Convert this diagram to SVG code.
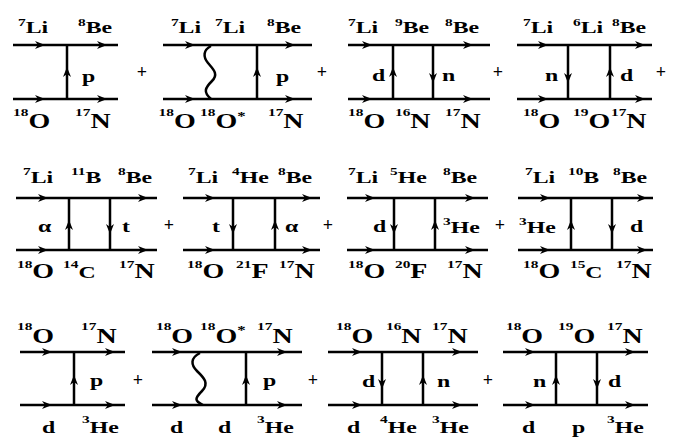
<svg xmlns="http://www.w3.org/2000/svg" xmlns:xlink="http://www.w3.org/1999/xlink" width="677" height="438" viewBox="0 0 677 438">
<style>
.ln{stroke:#000;stroke-width:2.5;fill:none}
text{font-family:"Liberation Serif","Times New Roman",serif;font-weight:bold;fill:#000}
.s{font-size:11px}
.t{font-size:17px}
.b{font-size:20px}
.c{font-size:17px}
.st{font-size:12px}
.op{font-size:18px;text-anchor:middle;fill:#000}
</style>
<defs>
<path id="a" d="M0,0 L-10,-4 L-7,0 L-10,4 Z" fill="#000"/>
</defs>
<rect width="677" height="438" fill="#fff"/>

<!-- Row 1 -->
<g id="d1">
<g class="conn">
<path class="ln" d="M13,45H118M13,99H118M67,45V99"/>
<use xlink:href="#a" x="45" y="45"/><use xlink:href="#a" x="107" y="45"/>
<use xlink:href="#a" x="45" y="99"/><use xlink:href="#a" x="107" y="99"/>
<use xlink:href="#a" transform="translate(67,67) rotate(-90)"/>
</g>
<g transform="scale(1.4 1)">
<text><tspan class="s" x="12.9" y="26">7</tspan><tspan class="t" y="33">Li</tspan></text>
<text><tspan class="s" x="55.7" y="26">8</tspan><tspan class="t" y="33">Be</tspan></text>
<text><tspan class="s" x="9.3" y="116">18</tspan><tspan class="b" y="128">O</tspan></text>
<text><tspan class="s" x="53.6" y="116">17</tspan><tspan class="b" y="128">N</tspan></text>
<text class="t" x="58.6" y="82">p</text>
</g>
</g>

<g id="d2">
<g class="conn">
<path class="ln" d="M163,45H312M163,99H312M257,45V99"/>
<path class="ln" d="M211,46C203,50 203,57 208,63S219,74 212,81S203,92 211,99"/>
<use xlink:href="#a" x="195" y="45"/><use xlink:href="#a" x="295" y="45"/>
<use xlink:href="#a" x="195" y="99"/><use xlink:href="#a" x="295" y="99"/>
<use xlink:href="#a" transform="translate(257,67) rotate(-90)"/>
</g>
<g transform="scale(1.4 1)">
<text><tspan class="s" x="122.1" y="26">7</tspan><tspan class="t" y="33">Li</tspan></text>
<text><tspan class="s" x="153.6" y="26">7</tspan><tspan class="t" y="33">Li</tspan></text>
<text><tspan class="s" x="190.7" y="26">8</tspan><tspan class="t" y="33">Be</tspan></text>
<text><tspan class="s" x="113.3" y="116">18</tspan><tspan class="b" y="128">O</tspan></text>
<text><tspan class="s" x="142.9" y="116">18</tspan><tspan class="b" y="128">O</tspan><tspan class="st" y="120">*</tspan></text>
<text><tspan class="s" x="191.4" y="116">17</tspan><tspan class="b" y="128">N</tspan></text>
<text class="t" x="197.1" y="82">p</text>
</g>
</g>

<g id="d3">
<g class="conn">
<path class="ln" d="M348,45H490M348,99H490M393,45V99M433,45V99"/>
<use xlink:href="#a" x="372" y="45"/><use xlink:href="#a" x="473" y="45"/>
<use xlink:href="#a" x="372" y="99"/><use xlink:href="#a" x="473" y="99"/>
<use xlink:href="#a" transform="translate(393,67) rotate(-90)"/>
<use xlink:href="#a" transform="translate(433,83) rotate(90)"/>
</g>
<g transform="scale(1.4 1)">
<text><tspan class="s" x="248.6" y="26">7</tspan><tspan class="t" y="33">Li</tspan></text>
<text><tspan class="s" x="282.1" y="26">9</tspan><tspan class="t" y="33">Be</tspan></text>
<text><tspan class="s" x="317.9" y="26">8</tspan><tspan class="t" y="33">Be</tspan></text>
<text><tspan class="s" x="248.6" y="116">18</tspan><tspan class="b" y="128">O</tspan></text>
<text><tspan class="s" x="282.1" y="116">16</tspan><tspan class="b" y="128">N</tspan></text>
<text><tspan class="s" x="317.9" y="116">17</tspan><tspan class="b" y="128">N</tspan></text>
<text class="t" x="265.7" y="81">d</text>
<text class="t" x="315.7" y="81">n</text>
</g>
</g>

<g id="d4">
<g class="conn">
<path class="ln" d="M517,45H652M517,99H652M568,45V99M610,45V99"/>
<use xlink:href="#a" x="548" y="45"/><use xlink:href="#a" x="645" y="45"/>
<use xlink:href="#a" x="548" y="99"/><use xlink:href="#a" x="645" y="99"/>
<use xlink:href="#a" transform="translate(568,83) rotate(90)"/>
<use xlink:href="#a" transform="translate(610,67) rotate(-90)"/>
</g>
<g transform="scale(1.4 1)">
<text><tspan class="s" x="373.6" y="26">7</tspan><tspan class="t" y="33">Li</tspan></text>
<text><tspan class="s" x="409.3" y="26">6</tspan><tspan class="t" y="33">Li</tspan></text>
<text><tspan class="s" x="437.1" y="26">8</tspan><tspan class="t" y="33">Be</tspan></text>
<text><tspan class="s" x="373.6" y="116">18</tspan><tspan class="b" y="128">O</tspan></text>
<text><tspan class="s" x="409.3" y="116">19</tspan><tspan class="b" y="128">O</tspan></text>
<text><tspan class="s" x="436.4" y="116">17</tspan><tspan class="b" y="128">N</tspan></text>
<text class="t" x="389.3" y="81">n</text>
<text class="t" x="442.9" y="81">d</text>
</g>
</g>

<!-- Row 2 -->
<g id="d5">
<g class="conn">
<path class="ln" d="M16,198H157M16,250H157M69,198V250M110,198V250"/>
<use xlink:href="#a" x="48" y="198"/><use xlink:href="#a" x="148" y="198"/>
<use xlink:href="#a" x="48" y="250"/><use xlink:href="#a" x="148" y="250"/>
<use xlink:href="#a" transform="translate(69,220) rotate(-90)"/>
<use xlink:href="#a" transform="translate(110,234) rotate(90)"/>
</g>
<g transform="scale(1.4 1)">
<text><tspan class="s" x="16.4" y="175">7</tspan><tspan class="t" y="183">Li</tspan></text>
<text><tspan class="s" x="50.7" y="175">11</tspan><tspan class="t" y="183">B</tspan></text>
<text><tspan class="s" x="84.3" y="175">8</tspan><tspan class="t" y="183">Be</tspan></text>
<text><tspan class="s" x="12.1" y="268">18</tspan><tspan class="b" y="278">O</tspan></text>
<text><tspan class="s" x="45" y="268">14</tspan><tspan class="c" y="278">C</tspan></text>
<text><tspan class="s" x="85" y="268">17</tspan><tspan class="b" y="278">N</tspan></text>
<text class="t" x="27.1" y="232">α</text>
<text class="t" x="87.1" y="232">t</text>
</g>
</g>

<g id="d6">
<g class="conn">
<path class="ln" d="M183,198H320M183,250H320M233,198V250M275,198V250"/>
<use xlink:href="#a" x="215" y="198"/><use xlink:href="#a" x="312" y="198"/>
<use xlink:href="#a" x="215" y="250"/><use xlink:href="#a" x="312" y="250"/>
<use xlink:href="#a" transform="translate(233,234) rotate(90)"/>
<use xlink:href="#a" transform="translate(275,220) rotate(-90)"/>
</g>
<g transform="scale(1.4 1)">
<text><tspan class="s" x="134.3" y="175">7</tspan><tspan class="t" y="183">Li</tspan></text>
<text><tspan class="s" x="165.7" y="175">4</tspan><tspan class="t" y="183">He</tspan></text>
<text><tspan class="s" x="198.6" y="175">8</tspan><tspan class="t" y="183">Be</tspan></text>
<text><tspan class="s" x="133.6" y="268">18</tspan><tspan class="b" y="278">O</tspan></text>
<text><tspan class="s" x="168.6" y="268">21</tspan><tspan class="b" y="278">F</tspan></text>
<text><tspan class="s" x="199.3" y="268">17</tspan><tspan class="b" y="278">N</tspan></text>
<text class="t" x="151.4" y="232">t</text>
<text class="t" x="203.6" y="232">α</text>
</g>
</g>

<g id="d7">
<g class="conn">
<path class="ln" d="M347,198H488M347,250H488M394,198V250M435,198V250"/>
<use xlink:href="#a" x="375" y="198"/><use xlink:href="#a" x="475" y="198"/>
<use xlink:href="#a" x="375" y="250"/><use xlink:href="#a" x="475" y="250"/>
<use xlink:href="#a" transform="translate(394,234) rotate(90)"/>
<use xlink:href="#a" transform="translate(435,220) rotate(-90)"/>
</g>
<g transform="scale(1.4 1)">
<text><tspan class="s" x="248.6" y="175">7</tspan><tspan class="t" y="183">Li</tspan></text>
<text><tspan class="s" x="278.6" y="175">5</tspan><tspan class="t" y="183">He</tspan></text>
<text><tspan class="s" x="316.4" y="175">8</tspan><tspan class="t" y="183">Be</tspan></text>
<text><tspan class="s" x="248.6" y="268">18</tspan><tspan class="b" y="278">O</tspan></text>
<text><tspan class="s" x="282.1" y="268">20</tspan><tspan class="b" y="278">F</tspan></text>
<text><tspan class="s" x="319.3" y="268">17</tspan><tspan class="b" y="278">N</tspan></text>
<text class="t" x="266.4" y="232">d</text>
<text><tspan class="s" x="316.4" y="225">3</tspan><tspan class="t" y="233">He</tspan></text>
</g>
</g>

<g id="d8">
<g class="conn">
<path class="ln" d="M518,198H653M518,250H653M571,198V250M612,198V250"/>
<use xlink:href="#a" x="550" y="198"/><use xlink:href="#a" x="647" y="198"/>
<use xlink:href="#a" x="550" y="250"/><use xlink:href="#a" x="647" y="250"/>
<use xlink:href="#a" transform="translate(571,220) rotate(-90)"/>
<use xlink:href="#a" transform="translate(612,234) rotate(90)"/>
</g>
<g transform="scale(1.4 1)">
<text><tspan class="s" x="375" y="175">7</tspan><tspan class="t" y="183">Li</tspan></text>
<text><tspan class="s" x="405.7" y="175">10</tspan><tspan class="t" y="183">B</tspan></text>
<text><tspan class="s" x="437.9" y="175">8</tspan><tspan class="t" y="183">Be</tspan></text>
<text><tspan class="s" x="373.6" y="268">18</tspan><tspan class="b" y="278">O</tspan></text>
<text><tspan class="s" x="407.1" y="268">15</tspan><tspan class="c" y="278">C</tspan></text>
<text><tspan class="s" x="440" y="268">17</tspan><tspan class="b" y="278">N</tspan></text>
<text><tspan class="s" x="370.7" y="225">3</tspan><tspan class="t" y="233">He</tspan></text>
<text class="t" x="450" y="232">d</text>
</g>
</g>

<!-- Row 3 -->
<g id="d9">
<g class="conn">
<path class="ln" d="M20,352H125M20,405H125M74,352V405"/>
<use xlink:href="#a" x="52" y="352"/><use xlink:href="#a" x="115" y="352"/>
<use xlink:href="#a" x="52" y="405"/><use xlink:href="#a" x="115" y="405"/>
<use xlink:href="#a" transform="translate(74,375) rotate(-90)"/>
</g>
<g transform="scale(1.4 1)">
<text><tspan class="s" x="12.1" y="330">18</tspan><tspan class="b" y="343">O</tspan></text>
<text><tspan class="s" x="57.9" y="330">17</tspan><tspan class="b" y="343">N</tspan></text>
<text class="t" x="30" y="433">d</text>
<text><tspan class="s" x="58.6" y="423">3</tspan><tspan class="t" y="433">He</tspan></text>
<text class="t" x="64.3" y="386">p</text>
</g>
</g>

<g id="d10">
<g class="conn">
<path class="ln" d="M152,352H302M152,405H302M246,352V405"/>
<path class="ln" d="M200,353C190,358 191,365 197,371S210,383 202,391S195,401 203,405"/>
<use xlink:href="#a" x="182" y="352"/><use xlink:href="#a" x="287" y="352"/>
<use xlink:href="#a" x="182" y="405"/><use xlink:href="#a" x="287" y="405"/>
<use xlink:href="#a" transform="translate(246,375) rotate(-90)"/>
</g>
<g transform="scale(1.4 1)">
<text><tspan class="s" x="111.4" y="330">18</tspan><tspan class="b" y="343">O</tspan></text>
<text><tspan class="s" x="142.9" y="330">18</tspan><tspan class="b" y="343">O</tspan><tspan class="st" y="334">*</tspan></text>
<text><tspan class="s" x="183.6" y="330">17</tspan><tspan class="b" y="343">N</tspan></text>
<text class="t" x="121.4" y="433">d</text>
<text class="t" x="155.7" y="433">d</text>
<text><tspan class="s" x="183.6" y="423">3</tspan><tspan class="t" y="433">He</tspan></text>
<text class="t" x="187.9" y="386">p</text>
</g>
</g>

<g id="d11">
<g class="conn">
<path class="ln" d="M328,352H478M328,405H478M382,352V405M423,352V405"/>
<use xlink:href="#a" x="362" y="352"/><use xlink:href="#a" x="462" y="352"/>
<use xlink:href="#a" x="362" y="405"/><use xlink:href="#a" x="462" y="405"/>
<use xlink:href="#a" transform="translate(382,389) rotate(90)"/>
<use xlink:href="#a" transform="translate(423,375) rotate(-90)"/>
</g>
<g transform="scale(1.4 1)">
<text><tspan class="s" x="240" y="330">18</tspan><tspan class="b" y="343">O</tspan></text>
<text><tspan class="s" x="275.7" y="330">16</tspan><tspan class="b" y="343">N</tspan></text>
<text><tspan class="s" x="308.6" y="330">17</tspan><tspan class="b" y="343">N</tspan></text>
<text class="t" x="247.9" y="433">d</text>
<text><tspan class="s" x="271.4" y="423">4</tspan><tspan class="t" y="433">He</tspan></text>
<text><tspan class="s" x="308.6" y="423">3</tspan><tspan class="t" y="433">He</tspan></text>
<text class="t" x="258.6" y="387">d</text>
<text class="t" x="312.1" y="387">n</text>
</g>
</g>

<g id="d12">
<g class="conn">
<path class="ln" d="M503,352H648M503,405H648M556,352V405M597,352V405"/>
<use xlink:href="#a" x="535" y="352"/><use xlink:href="#a" x="635" y="352"/>
<use xlink:href="#a" x="535" y="405"/><use xlink:href="#a" x="635" y="405"/>
<use xlink:href="#a" transform="translate(556,375) rotate(-90)"/>
<use xlink:href="#a" transform="translate(597,389) rotate(90)"/>
</g>
<g transform="scale(1.4 1)">
<text><tspan class="s" x="361.4" y="330">18</tspan><tspan class="b" y="343">O</tspan></text>
<text><tspan class="s" x="398.6" y="330">19</tspan><tspan class="b" y="343">O</tspan></text>
<text><tspan class="s" x="433.6" y="330">17</tspan><tspan class="b" y="343">N</tspan></text>
<text class="t" x="372.9" y="433">d</text>
<text class="t" x="408.6" y="433">p</text>
<text><tspan class="s" x="433.6" y="423">3</tspan><tspan class="t" y="433">He</tspan></text>
<text class="t" x="380.7" y="387">n</text>
<text class="t" x="434.3" y="387">d</text>
</g>
</g>

<g id="ops">
<text class="op" x="142" y="77.6">+</text>
<text class="op" x="322" y="77.6">+</text>
<text class="op" x="498" y="77.6">+</text>
<text class="op" x="661" y="77.6">+</text>
<text class="op" x="169" y="230.6">+</text>
<text class="op" x="328" y="230.6">+</text>
<text class="op" x="500" y="230.6">+</text>
<text class="op" x="138" y="385.6">+</text>
<text class="op" x="313" y="385.6">+</text>
<text class="op" x="488" y="385.6">+</text>
</g>
</svg>
